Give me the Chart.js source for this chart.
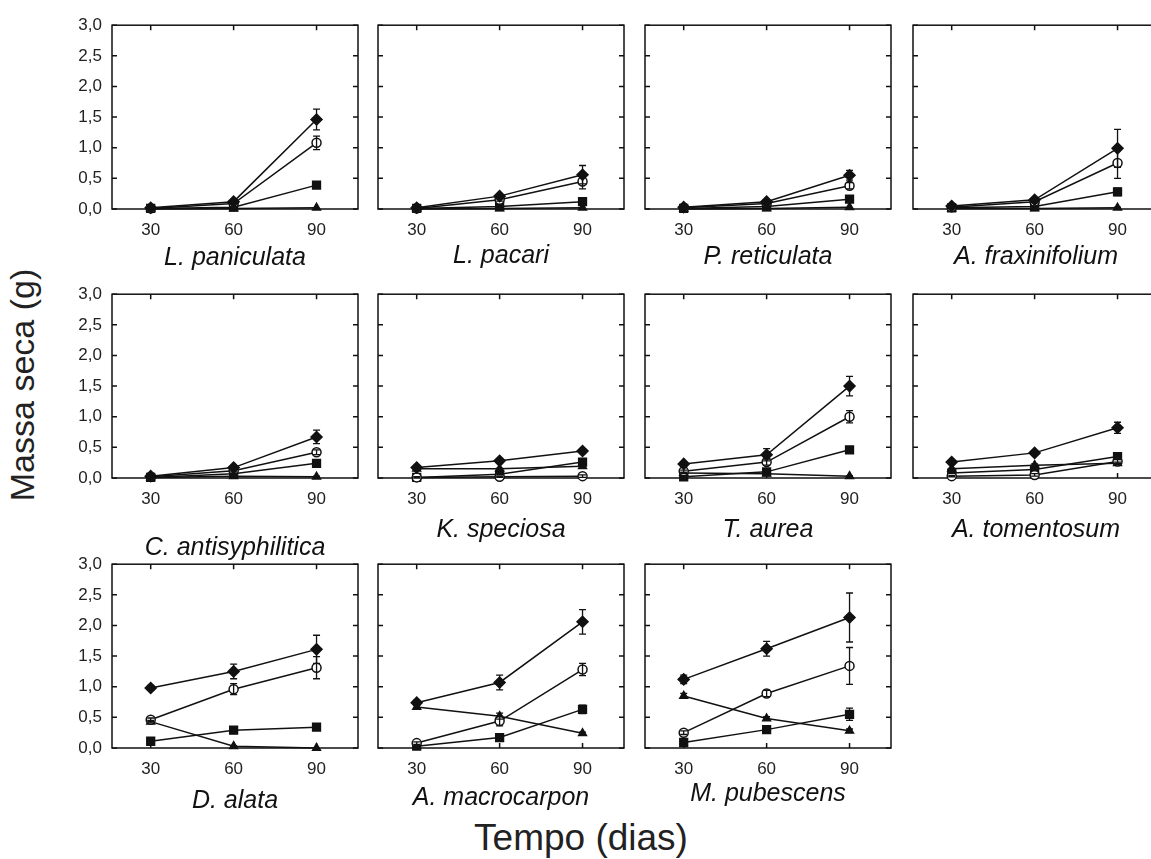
<!DOCTYPE html>
<html>
<head>
<meta charset="utf-8">
<script src="https://cdn.jsdelivr.net/npm/chart.js@4.4.1/dist/chart.umd.min.js"></script>
<style>
  html, body { margin: 0; padding: 0; background: #fff; }
  body { position: relative; width: 1151px; height: 859px; overflow: hidden; font-family: "Liberation Sans", Arial, sans-serif; }
  canvas.panel { position: absolute; }
  .ylab { position: absolute; left: 22px; top: 385px; transform: translate(-50%, -50%) rotate(-90deg); font-size: 34px; color: #222; white-space: nowrap; }
  .xlab { position: absolute; left: 581px; top: 838px; transform: translate(-50%, -50%); font-size: 37px; color: #222; white-space: nowrap; }
</style>
</head>
<body>
<div class="ylab">Massa seca (g)</div>
<div class="xlab">Tempo (dias)</div>

<script>
// dias de coleta
const days = [30, 60, 90];

const species = [
  "L. paniculata", "L. pacari", "P. reticulata", "A. fraxinifolium",
  "C. antisyphilitica", "K. speciosa", "T. aurea", "A. tomentosum",
  "D. alata", "A. macrocarpon", "M. pubescens"
];

// massa seca (g), one row per species, values at 30/60/90 days
const diamond = [
  [0.02, 0.12, 1.46], [0.02, 0.21, 0.56], [0.03, 0.12, 0.55], [0.05, 0.15, 0.99],
  [0.03, 0.17, 0.67], [0.17, 0.28, 0.44], [0.23, 0.38, 1.50], [0.26, 0.41, 0.82],
  [0.98, 1.25, 1.61], [0.74, 1.07, 2.06], [1.12, 1.62, 2.13]
];
const diamondErr = [
  [0.01, 0.03, 0.17], [0.01, 0.03, 0.15], [0.01, 0.02, 0.08], [0.01, 0.03, 0.31],
  [0.01, 0.03, 0.11], [0.02, 0.03, 0.04], [0.03, 0.10, 0.16], [0.02, 0.03, 0.09],
  [0.04, 0.12, 0.23], [0.04, 0.12, 0.20], [0.07, 0.12, 0.40]
];
const circle = [
  [0.01, 0.09, 1.08], [0.01, 0.15, 0.45], [0.02, 0.09, 0.38], [0.03, 0.12, 0.75],
  [0.02, 0.12, 0.42], [0.01, 0.02, 0.03], [0.11, 0.26, 1.00], [0.03, 0.05, 0.27],
  [0.46, 0.96, 1.31], [0.08, 0.44, 1.28], [0.25, 0.89, 1.34]
];
const circleErr = [
  [0.01, 0.02, 0.11], [0.01, 0.02, 0.12], [0.01, 0.02, 0.05], [0.01, 0.02, 0.25],
  [0.01, 0.02, 0.04], [0.01, 0.01, 0.02], [0.02, 0.05, 0.10], [0.01, 0.02, 0.03],
  [0.03, 0.09, 0.18], [0.02, 0.08, 0.10], [0.03, 0.05, 0.30]
];
const square = [
  [0.01, 0.03, 0.39], [0.01, 0.04, 0.12], [0.01, 0.04, 0.16], [0.02, 0.04, 0.28],
  [0.01, 0.07, 0.24], [0.01, 0.06, 0.26], [0.02, 0.10, 0.46], [0.08, 0.14, 0.35],
  [0.11, 0.29, 0.34], [0.03, 0.17, 0.63], [0.09, 0.30, 0.55]
];
const squareErr = [
  [0.00, 0.01, 0.04], [0.00, 0.01, 0.02], [0.00, 0.01, 0.02], [0.00, 0.01, 0.06],
  [0.00, 0.01, 0.03], [0.00, 0.01, 0.03], [0.01, 0.02, 0.03], [0.01, 0.02, 0.03],
  [0.02, 0.02, 0.03], [0.01, 0.02, 0.07], [0.02, 0.03, 0.10]
];
const triangle = [
  [0.00, 0.01, 0.02], [0.00, 0.01, 0.02], [0.00, 0.01, 0.03], [0.01, 0.01, 0.02],
  [0.01, 0.03, 0.02], [0.15, 0.15, 0.19], [0.08, 0.07, 0.03], [0.15, 0.21, 0.24],
  [0.43, 0.03, 0.00], [0.67, 0.52, 0.24], [0.85, 0.48, 0.28]
];
const triangleErr = [
  [0.00, 0.00, 0.00], [0.00, 0.00, 0.00], [0.00, 0.00, 0.00], [0.00, 0.00, 0.01],
  [0.00, 0.01, 0.01], [0.01, 0.01, 0.02], [0.01, 0.01, 0.01], [0.01, 0.02, 0.02],
  [0.02, 0.01, 0.00], [0.03, 0.05, 0.02], [0.04, 0.03, 0.03]
];

// panel geometry (plot area)
const plotLeft = [112, 378, 645, 913];
const plotTop = [24, 293, 563];
const plotW = 246, plotH = 185;
// padT: room the top y label takes above the plot
const padL = 60, padT = 19, padR = 10, padB = 90;
// distance from plot bottom to the species name
const titleDrop = [49, 47, 48, 48, 70, 52, 52, 52, 53, 50, 46];

const INK = "#111";
Chart.defaults.font.family = '"Liberation Sans", Arial, sans-serif';
Chart.defaults.color = "#222";

// box round the plot with short ticks pointing inwards
const framePlugin = {
  id: "frame",
  beforeDatasetsDraw(chart) {
    const { ctx, chartArea: a, scales: { x, y } } = chart;
    ctx.save();
    ctx.strokeStyle = INK;
    ctx.lineWidth = 1.5;
    ctx.strokeRect(a.left, a.top, a.width, a.height);
    ctx.beginPath();
    y.ticks.forEach(t => {
      const py = y.getPixelForValue(t.value);
      ctx.moveTo(a.left, py); ctx.lineTo(a.left + 5, py);
      ctx.moveTo(a.right, py); ctx.lineTo(a.right - 5, py);
    });
    x.ticks.forEach(t => {
      const px = x.getPixelForValue(t.value);
      ctx.moveTo(px, a.top); ctx.lineTo(px, a.top + 5);
      ctx.moveTo(px, a.bottom); ctx.lineTo(px, a.bottom - 5);
    });
    ctx.stroke();
    ctx.restore();
  }
};

// vertical error bars with caps
const errorBarPlugin = {
  id: "errorBars",
  afterDatasetsDraw(chart) {
    const { ctx, scales: { y } } = chart;
    ctx.save();
    ctx.strokeStyle = INK;
    ctx.lineWidth = 1.3;
    chart.data.datasets.forEach((ds, di) => {
      const meta = chart.getDatasetMeta(di);
      ds.errors.forEach((e, i) => {
        if (!e) return;
        const v = ds.data[i].y;
        const px = meta.data[i].x;
        const yt = y.getPixelForValue(v + e);
        const yb = y.getPixelForValue(Math.max(0, v - e));
        ctx.beginPath();
        ctx.moveTo(px, yt); ctx.lineTo(px, yb);
        ctx.moveTo(px - 3.5, yt); ctx.lineTo(px + 3.5, yt);
        ctx.moveTo(px - 3.5, yb); ctx.lineTo(px + 3.5, yb);
        ctx.stroke();
      });
    });
    ctx.restore();
  }
};

function series(values, errors, style, radius, fill) {
  return {
    data: days.map((d, i) => ({ x: d, y: values[i] })),
    errors: errors,
    borderColor: INK,
    borderWidth: 1.5,
    tension: 0,
    pointStyle: style,
    pointRadius: radius,
    pointBackgroundColor: fill,
    pointBorderColor: INK,
    pointBorderWidth: 1.5,
    clip: false
  };
}

species.forEach((name, i) => {
  const row = Math.floor(i / 4), col = i % 4;
  const canvas = document.createElement("canvas");
  canvas.className = "panel";
  canvas.width = padL + plotW + padR;
  canvas.height = padT + plotH + padB;
  canvas.style.left = (plotLeft[col] - padL) + "px";
  canvas.style.top = (plotTop[row] - padT) + "px";
  document.body.appendChild(canvas);

  new Chart(canvas, {
    type: "line",
    data: {
      datasets: [
        series(diamond[i], diamondErr[i], "rectRot", 5.5, INK),
        series(circle[i], circleErr[i], "circle", 4.5, "#fff"),
        series(square[i], squareErr[i], "rect", 5.5, INK),
        series(triangle[i], triangleErr[i], "triangle", 4.5, INK)
      ]
    },
    options: {
      responsive: false,
      animation: false,
      layout: { padding: { top: 0, right: padR, left: 0, bottom: 0 } },
      plugins: { legend: { display: false }, tooltip: { enabled: false } },
      scales: {
        x: {
          type: "linear",
          min: 16,
          max: 105,
          afterBuildTicks: s => { s.ticks = days.map(v => ({ value: v })); },
          afterFit: s => { s.height = padB; },
          grid: { display: false, drawTicks: false },
          border: { display: false },
          ticks: { font: { size: 17 }, padding: 11, color: "#222" },
          title: {
            display: true,
            text: name,
            color: INK,
            font: { size: 25, style: "italic" },
            padding: { top: 0, bottom: padB - 15 - titleDrop[i] }
          }
        },
        y: {
          min: 0,
          max: 3,
          afterFit: s => { s.width = padL; },
          grid: { display: false, drawTicks: false },
          border: { display: false },
          ticks: {
            // labels only on the first column; kept (invisible) elsewhere so every plot sits alike
            stepSize: 0.5,
            font: { size: 17 },
            padding: 10,
            color: col === 0 ? "#222" : "rgba(0,0,0,0)",
            callback: v => v.toFixed(1).replace(".", ",")
          }
        }
      }
    },
    plugins: [framePlugin, errorBarPlugin]
  });
});
</script>
</body>
</html>
